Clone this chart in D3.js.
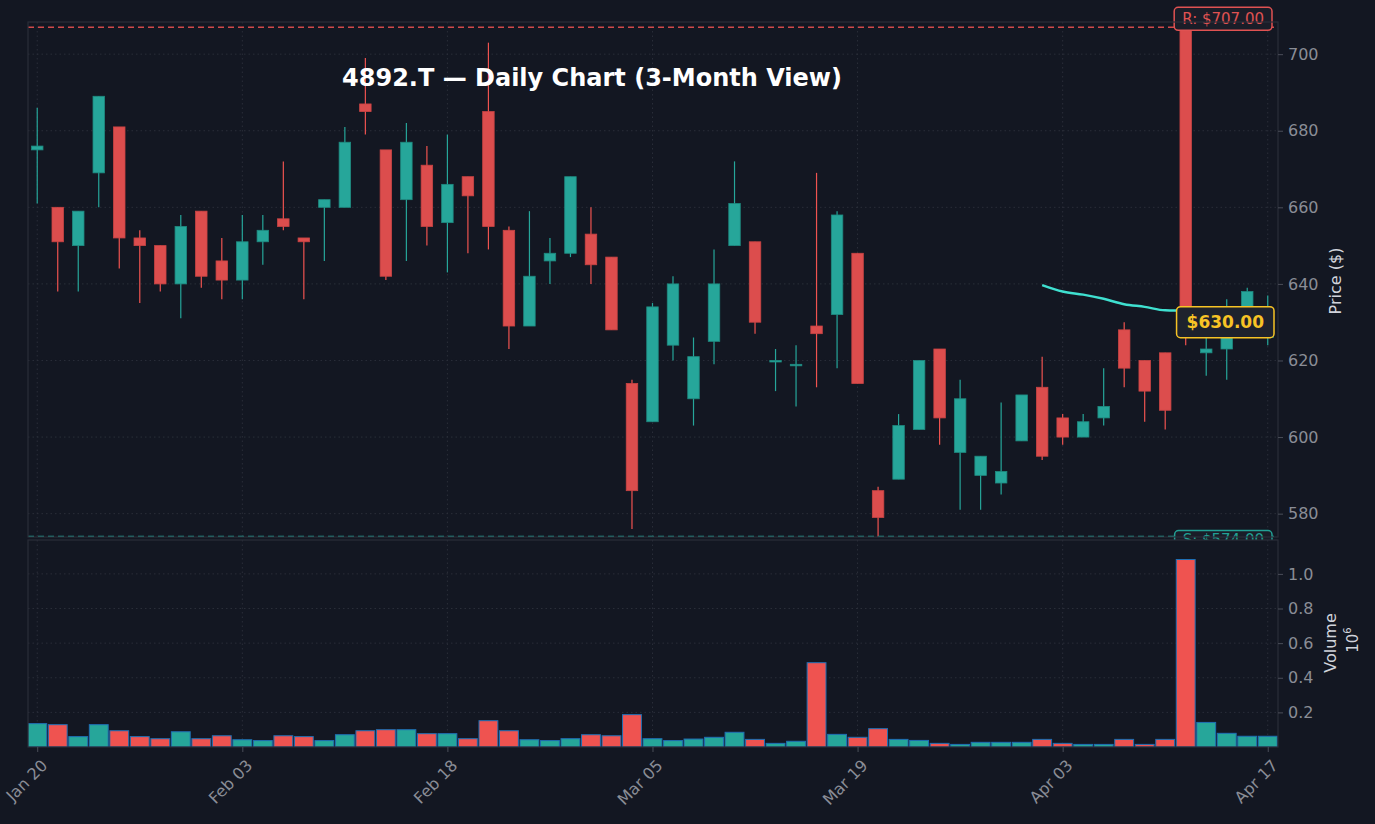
<!DOCTYPE html>
<html>
<head>
<meta charset="utf-8">
<script src="https://cdn.jsdelivr.net/npm/d3@7"></script>
<style>
  body { margin: 0; background: #131722; }
  svg { display: block; font-family: "DejaVu Sans", sans-serif; }
</style>
</head>
<body>
<div id="chart"></div>
<script>
// trading days (Tokyo), Jan 20 .. Apr 17
var dates = ["2025-01-20","2025-01-21","2025-01-22","2025-01-23","2025-01-24","2025-01-27","2025-01-28","2025-01-29","2025-01-30","2025-01-31",
  "2025-02-03","2025-02-04","2025-02-05","2025-02-06","2025-02-07","2025-02-10","2025-02-12","2025-02-13","2025-02-14","2025-02-17",
  "2025-02-18","2025-02-19","2025-02-20","2025-02-21","2025-02-25","2025-02-26","2025-02-27","2025-02-28","2025-03-03","2025-03-04",
  "2025-03-05","2025-03-06","2025-03-07","2025-03-10","2025-03-11","2025-03-12","2025-03-13","2025-03-14","2025-03-17","2025-03-18",
  "2025-03-19","2025-03-21","2025-03-24","2025-03-25","2025-03-26","2025-03-27","2025-03-28","2025-03-31","2025-04-01","2025-04-02",
  "2025-04-03","2025-04-04","2025-04-07","2025-04-08","2025-04-09","2025-04-10","2025-04-11","2025-04-14","2025-04-15","2025-04-16",
  "2025-04-17"]
var opens  = [675,660,650,669,681,652,650,640,659,646, 641,651,657,652,660,660,687,675,662,671, 656,668,685,654,629,646,648,653,647,614,
  604,624,610,625,650,651,620,619,629,632, 648,586,589,602,623,596,590,588,599,613, 605,600,605,628,620,622,707,622,623,630, 626]
var highs  = [686,660,659,689,681,654,650,658,659,652, 658,658,672,652,662,681,699,675,682,676, 679,668,703,655,659,652,668,660,647,615,
  635,642,626,649,672,651,623,624,669,659, 648,587,606,620,623,615,595,609,611,621, 606,606,618,630,620,622,707,628,636,639, 637]
var lows   = [661,638,638,660,644,635,638,631,639,636, 636,645,654,636,646,660,679,641,646,650, 643,648,649,623,629,640,647,640,628,576,
  604,620,603,619,650,627,612,608,613,618, 614,573,589,602,598,581,581,585,599,594, 598,600,603,613,604,602,624,616,615,628, 624]
var closes = [676,651,659,689,652,650,640,655,642,641, 651,654,655,651,662,677,685,642,677,655, 666,663,655,629,642,648,668,645,628,586,
  634,640,621,640,661,630,620,619,627,658, 614,579,603,620,605,610,595,591,611,595, 600,604,608,618,612,607,631,623,627,638, 630]
var volumes = [0.135,0.129,0.060,0.129,0.094,0.060,0.048,0.088,0.048,0.065, 0.042,0.037,0.065,0.060,0.037,0.071,0.094,0.100,0.100,0.077,
  0.077,0.048,0.152,0.094,0.042,0.037,0.048,0.071,0.065,0.187, 0.048,0.037,0.046,0.056,0.085,0.044,0.021,0.033,0.487,0.073,
  0.056,0.106,0.044,0.038,0.021,0.015,0.027,0.027,0.027,0.044, 0.021,0.015,0.015,0.044,0.015,0.044,1.083,0.142,0.079,0.062, 0.062]
var maStart = 49
var maValues = [639.7,638.0,637.2,636.1,634.7,634.0,633.1,633.0,632.8,632.6,632.4,632.2]
var tickIdx = [0,10,20,30,40,50,60]
var priceTicks = [580,600,620,640,660,680,700]
var volTicks = [0.2,0.4,0.6,0.8,1.0]
var resistance = 707, support = 574, lastPrice = 630

var W = 1375, H = 824
var up = "#26a69a", down = "#ef5350", grid = "#2a2e39", tickCol = "#8a8d96"
var left = 28, right = 1278
var pTop = 22, pBot = 537, vTop = 537, vBot = 747

var svg = d3.select("#chart").append("svg").attr("width", W).attr("height", H)
svg.append("rect").attr("width", W).attr("height", H).attr("fill", "#131722")

var x = d3.scaleLinear().domain([-0.45, 60.5]).range([left, right])
var y = d3.scaleLinear().domain([573.9, 708.4]).range([pBot, pTop])
var yv = d3.scaleLinear().domain([0, 1.213]).range([vBot, vTop])
var step = x(1) - x(0)
var fmt = d3.timeFormat("%b %d"), parse = d3.timeParse("%Y-%m-%d")

svg.append("clipPath").attr("id", "pclip").append("rect")
  .attr("x", left).attr("y", pTop).attr("width", right - left).attr("height", pBot - pTop)
svg.append("clipPath").attr("id", "vclip").append("rect")
  .attr("x", left).attr("y", vTop).attr("width", right - left).attr("height", vBot - vTop)

function grids(top, bot, yScale, ticks) {
  var g = svg.append("g").attr("stroke", grid).attr("stroke-dasharray", "1.5,3").attr("stroke-width", 1)
  tickIdx.forEach(function (i) { g.append("line").attr("x1", x(i)).attr("x2", x(i)).attr("y1", top).attr("y2", bot) })
  ticks.forEach(function (t) { g.append("line").attr("x1", left).attr("x2", right).attr("y1", yScale(t)).attr("y2", yScale(t)) })
}
function tag(txt, xr, ytop, h, col, fill, size, weight, pad) {
  var g = svg.append("g")
  var t = g.append("text").text(txt).attr("font-size", size).attr("font-weight", weight).attr("fill", col)
    .attr("text-anchor", "end").attr("x", xr - pad).attr("y", ytop + h / 2).attr("dominant-baseline", "central")
  var w = t.node().getComputedTextLength() + 2 * pad
  g.insert("rect", "text").attr("x", xr - w).attr("y", ytop).attr("width", w).attr("height", h)
    .attr("rx", 4).attr("fill", fill).attr("stroke", col).attr("stroke-width", 1.5)
  return g
}

grids(pTop, pBot, y, priceTicks)

// candles
var pg = svg.append("g").attr("clip-path", "url(#pclip)")
var idx = d3.range(dates.length)
var bw = step * 0.56
pg.selectAll("line.wick").data(idx).enter().append("line")
  .attr("x1", function (i) { return x(i) }).attr("x2", function (i) { return x(i) })
  .attr("y1", function (i) { return y(highs[i]) }).attr("y2", function (i) { return y(lows[i]) })
  .attr("stroke", function (i) { return closes[i] >= opens[i] ? up : down }).attr("stroke-width", 1.2)
pg.selectAll("rect.body").data(idx).enter().append("rect")
  .attr("x", function (i) { return x(i) - bw / 2 }).attr("width", bw)
  .attr("y", function (i) { return y(Math.max(opens[i], closes[i])) })
  .attr("height", function (i) { return Math.max(1.5, Math.abs(y(opens[i]) - y(closes[i]))) })
  .attr("fill", function (i) { return closes[i] >= opens[i] ? up : "#dc4d4d" })
  .attr("stroke", function (i) { return closes[i] >= opens[i] ? "#1f8a80" : "#c94444" }).attr("stroke-width", 0.8)

// moving average
pg.append("path").datum(maValues).attr("fill", "none").attr("stroke", "#3fe0d0").attr("stroke-width", 2.5)
  .attr("d", d3.line().curve(d3.curveMonotoneX).x(function (d, k) { return x(maStart + k) }).y(function (d) { return y(d) }))

// support / resistance
pg.append("line").attr("x1", left).attr("x2", right).attr("y1", y(resistance)).attr("y2", y(resistance))
  .attr("stroke", "#d04a4a").attr("stroke-width", 1.5).attr("stroke-dasharray", "6,4")
pg.append("line").attr("x1", left).attr("x2", right).attr("y1", y(support)).attr("y2", y(support))
  .attr("stroke", "#22a094").attr("stroke-width", 1.5).attr("stroke-dasharray", "6,4")

tag("R: $" + resistance.toFixed(2), 1272, y(resistance) - 20, 23, "#e05252", "#1a1d28", 15, "normal", 8)
tag("S: $" + support.toFixed(2), 1272, y(support) - 6, 23, "#22a094", "#1a1d28", 15, "normal", 8)
  .select("text").attr("y", y(support) + 3)

// volume panel covers the lower part of the S tag
svg.append("rect").attr("x", left).attr("y", vTop + 3).attr("width", W - left).attr("height", vBot - vTop - 3).attr("fill", "#131722")
grids(vTop + 3, vBot, yv, volTicks)
var vg = svg.append("g").attr("clip-path", "url(#vclip)")
vg.selectAll("rect").data(idx).enter().append("rect")
  .attr("x", function (i) { return x(i) - step * 0.46 }).attr("width", step * 0.92)
  .attr("y", function (i) { return yv(volumes[i]) }).attr("height", function (i) { return yv(0) - yv(volumes[i]) })
  .attr("fill", function (i) { return closes[i] >= opens[i] ? up : down })
  .attr("stroke", "#1f6fb4").attr("stroke-width", 1)

// current price label
tag("$" + lastPrice.toFixed(2), 1274, y(lastPrice) - 15.5, 31, "#f7c325", "#1e222d", 17, "bold", 10)

// frames
svg.append("rect").attr("x", left).attr("y", pTop).attr("width", right - left).attr("height", pBot - pTop)
  .attr("fill", "none").attr("stroke", grid).attr("stroke-width", 1.2)
svg.append("rect").attr("x", left).attr("y", vTop + 3).attr("width", right - left).attr("height", vBot - vTop - 3)
  .attr("fill", "none").attr("stroke", grid).attr("stroke-width", 1.2)

function styleAxis(g) {
  g.select(".domain").remove()
  g.selectAll(".tick line").attr("stroke", "#4a4e59")
  g.selectAll(".tick text").attr("fill", tickCol).attr("font-size", 16).attr("font-family", "DejaVu Sans")
}
svg.append("g").attr("transform", "translate(" + right + ",0)")
  .call(d3.axisRight(y).tickValues(priceTicks).tickSize(5).tickPadding(5)).call(styleAxis)
svg.append("g").attr("transform", "translate(" + right + ",0)")
  .call(d3.axisRight(yv).tickValues(volTicks).tickSize(5).tickPadding(5).tickFormat(d3.format(".1f"))).call(styleAxis)
var xa = svg.append("g").attr("transform", "translate(0," + vBot + ")")
  .call(d3.axisBottom(x).tickValues(tickIdx).tickSize(5).tickFormat(function (i) { return fmt(parse(dates[i])) }))
  .call(styleAxis)
xa.selectAll(".tick text").attr("text-anchor", "end").attr("dy", 0).attr("dx", 0)
  .attr("transform", "translate(5,14) rotate(-45)")

svg.append("text").text("4892.T — Daily Chart (3-Month View)").attr("x", 592).attr("y", 86)
  .attr("text-anchor", "middle").attr("fill", "#ffffff").attr("font-size", 24).attr("font-weight", "bold")
svg.append("text").text("Price ($)").attr("transform", "translate(1341,281) rotate(-90)")
  .attr("text-anchor", "middle").attr("fill", "#d1d4dc").attr("font-size", 16)
svg.append("text").text("Volume").attr("transform", "translate(1336,643) rotate(-90)")
  .attr("text-anchor", "middle").attr("fill", "#d1d4dc").attr("font-size", 16)
var ex = svg.append("text").attr("transform", "translate(1358,640) rotate(-90)")
  .attr("text-anchor", "middle").attr("fill", "#d1d4dc").attr("font-size", 15)
ex.append("tspan").text("10")
ex.append("tspan").text("6").attr("font-size", 10).attr("dy", -7)
</script>
</body>
</html>
